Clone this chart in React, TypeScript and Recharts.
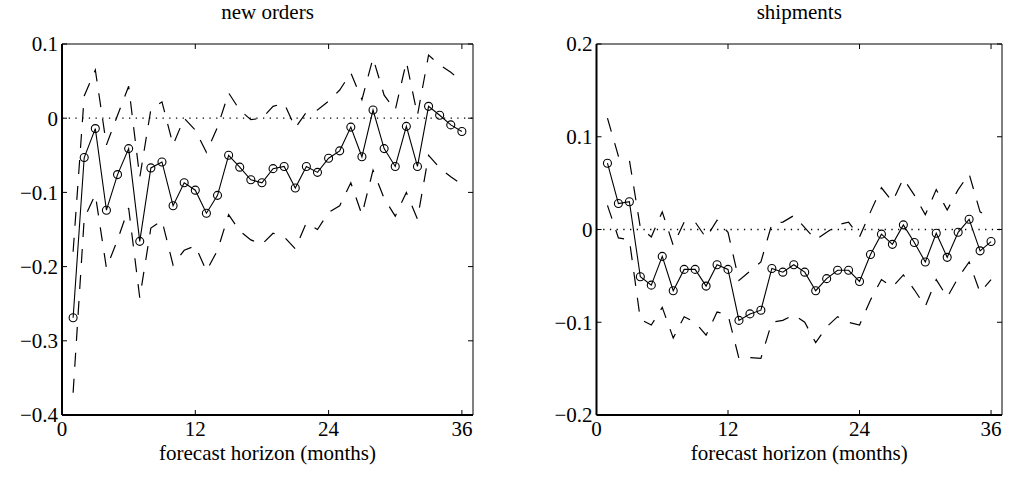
import { LineChart, Line, XAxis, YAxis, ReferenceLine } from "recharts";

// forecast horizon, months 1..36
const months = [
  1, 2, 3, 4, 5, 6, 7, 8, 9, 10, 11, 12, 13, 14, 15, 16, 17, 18,
  19, 20, 21, 22, 23, 24, 25, 26, 27, 28, 29, 30, 31, 32, 33, 34, 35, 36,
];

// new orders: point estimate and the two dashed bands
const newOrdersMean = [
  -0.269, -0.053, -0.014, -0.124, -0.076, -0.041, -0.166, -0.067, -0.059, -0.118, -0.087, -0.097,
  -0.128, -0.104, -0.05, -0.066, -0.083, -0.087, -0.068, -0.065, -0.094, -0.065, -0.073, -0.054,
  -0.044, -0.012, -0.052, 0.011, -0.041, -0.065, -0.011, -0.065, 0.016, 0.004, -0.009, -0.018,
];
const newOrdersUpper = [
  -0.18, 0.03, 0.065, -0.036, 0.004, 0.043, -0.08, 0.012, 0.022, -0.036, 0.0, -0.016,
  -0.046, -0.012, 0.034, 0.011, -0.002, 0.0, 0.016, 0.02, -0.013, 0.008, 0.011, 0.023,
  0.038, 0.061, 0.025, 0.081, 0.031, 0.011, 0.076, 0.004, 0.085, 0.072, 0.062, 0.049,
];
const newOrdersLower = [
  -0.37, -0.135, -0.103, -0.202, -0.164, -0.121, -0.242, -0.148, -0.138, -0.198, -0.178, -0.172,
  -0.206, -0.178, -0.13, -0.152, -0.164, -0.17, -0.155, -0.16, -0.176, -0.141, -0.15, -0.127,
  -0.118, -0.087, -0.13, -0.07, -0.108, -0.132, -0.1, -0.136, -0.05, -0.067, -0.079, -0.089,
];

// shipments
const shipmentsMean = [
  0.0715, 0.028, 0.03, -0.051, -0.06, -0.029, -0.066, -0.043, -0.043, -0.061, -0.038, -0.043,
  -0.098, -0.091, -0.087, -0.042, -0.046, -0.038, -0.046, -0.066, -0.053, -0.044, -0.044, -0.056,
  -0.027, -0.005, -0.016, 0.005, -0.014, -0.035, -0.004, -0.03, -0.003, 0.011, -0.023, -0.013,
];
const shipmentsUpper = [
  0.12, 0.079, 0.075, 0.002, -0.008, 0.019, -0.017, 0.008, 0.008, -0.009, 0.01, -0.003,
  -0.055, -0.045, -0.035, 0.006, 0.008, 0.015, 0.002, -0.011, -0.003, 0.005, 0.008, -0.008,
  0.019, 0.045, 0.03, 0.055, 0.037, 0.016, 0.043, 0.021, 0.043, 0.06, 0.019, 0.012,
];
const shipmentsLower = [
  0.026, -0.009, -0.011, -0.097, -0.103, -0.084, -0.117, -0.094, -0.1, -0.114, -0.089, -0.092,
  -0.139, -0.138, -0.139, -0.1, -0.098, -0.092, -0.1, -0.122, -0.105, -0.094, -0.1, -0.103,
  -0.076, -0.054, -0.062, -0.049, -0.065, -0.083, -0.054, -0.073, -0.052, -0.035, -0.068, -0.054,
];

const xTicks = [0, 12, 24, 36];
const newOrdersTicks = [-0.4, -0.3, -0.2, -0.1, 0, 0.1];
const shipmentsTicks = [-0.2, -0.1, 0, 0.1, 0.2];

const FONT = "'Liberation Serif', 'Times New Roman', serif";
const FONT_SIZE = 21;
const TICK_LEN = 5;
const X_MARGIN = 6;
const Y_MARGIN = 4;

function fmt(v: number): string {
  if (v === 0) return "0";
  const s = Math.abs(v).toFixed(1);
  return v < 0 ? "\u2212" + s : s;
}

function BottomTick(props: any) {
  const { x, y, payload } = props;
  const axisY = y - X_MARGIN;
  return (
    <g>
      <line x1={x} y1={axisY} x2={x} y2={axisY - TICK_LEN} stroke="#000" />
      <text x={x} y={y} dy="0.71em" textAnchor="middle" fontSize={FONT_SIZE} fontFamily={FONT} fill="#000">
        {payload.value}
      </text>
    </g>
  );
}

function TopTick(props: any) {
  const { x, y } = props;
  return <line x1={x} y1={y} x2={x} y2={y + TICK_LEN} stroke="#000" />;
}

function LeftTick(props: any) {
  const { x, y, payload } = props;
  const axisX = x + Y_MARGIN;
  return (
    <g>
      <line x1={axisX} y1={y} x2={axisX + TICK_LEN} y2={y} stroke="#000" />
      <text x={x} y={y} dy="0.35em" textAnchor="end" fontSize={FONT_SIZE} fontFamily={FONT} fill="#000">
        {fmt(payload.value)}
      </text>
    </g>
  );
}

function RightTick(props: any) {
  const { x, y } = props;
  return <line x1={x} y1={y} x2={x - TICK_LEN} y2={y} stroke="#000" />;
}

type Row = { month: number; mean: number; upper: number; lower: number };

function buildRows(mean: number[], upper: number[], lower: number[]): Row[] {
  return months.map((m, i) => ({ month: m, mean: mean[i], upper: upper[i], lower: lower[i] }));
}

type PanelProps = {
  title: string;
  rows: Row[];
  yDomain: [number, number];
  yTicks: number[];
  left: number;
  marginLeft: number;
  marginRight: number;
};

function Panel({ title, rows, yDomain, yTicks, left, marginLeft, marginRight }: PanelProps) {
  return (
    <div style={{ position: "absolute", left, top: 0 }}>
      <LineChart
        width={504}
        height={485}
        data={rows}
        margin={{ top: 24, right: marginRight, bottom: 40, left: marginLeft }}
      >
        <XAxis
          xAxisId="bottom"
          dataKey="month"
          type="number"
          domain={[0, 37]}
          ticks={xTicks}
          height={30}
          tickSize={0}
          tickMargin={X_MARGIN}
          tick={BottomTick}
          axisLine={{ stroke: "#000", strokeWidth: 2 }}
          tickLine={false}
          label={{
            value: "forecast horizon (months)",
            position: "bottom",
            offset: 0,
            fontSize: FONT_SIZE,
            fontFamily: FONT,
            fill: "#000",
          }}
        />
        <XAxis
          xAxisId="top"
          orientation="top"
          dataKey="month"
          type="number"
          domain={[0, 37]}
          ticks={xTicks}
          height={20}
          tickSize={0}
          tickMargin={0}
          tick={TopTick}
          axisLine={{ stroke: "#000", strokeWidth: 1 }}
          tickLine={false}
          label={{
            value: title,
            position: "top",
            offset: 5,
            fontSize: FONT_SIZE,
            fontFamily: FONT,
            fill: "#000",
          }}
        />
        <YAxis
          yAxisId="left"
          type="number"
          domain={yDomain}
          ticks={yTicks}
          width={50}
          tickSize={0}
          tickMargin={Y_MARGIN}
          tick={LeftTick}
          axisLine={{ stroke: "#000", strokeWidth: 2 }}
          tickLine={false}
          allowDataOverflow
        />
        <YAxis
          yAxisId="right"
          orientation="right"
          type="number"
          domain={yDomain}
          ticks={yTicks}
          width={5}
          tickSize={0}
          tickMargin={0}
          tick={RightTick}
          axisLine={{ stroke: "#000", strokeWidth: 1 }}
          tickLine={false}
          allowDataOverflow
        />
        <ReferenceLine
          xAxisId="bottom"
          yAxisId="left"
          y={0}
          stroke="#000"
          strokeWidth={1.3}
          strokeDasharray="1.3 5.4"
        />
        <Line
          xAxisId="bottom"
          yAxisId="left"
          dataKey="upper"
          type="linear"
          stroke="#000"
          strokeWidth={1.2}
          strokeDasharray="14 12"
          dot={false}
          isAnimationActive={false}
        />
        <Line
          xAxisId="bottom"
          yAxisId="left"
          dataKey="lower"
          type="linear"
          stroke="#000"
          strokeWidth={1.2}
          strokeDasharray="14 12"
          dot={false}
          isAnimationActive={false}
        />
        <Line
          xAxisId="bottom"
          yAxisId="left"
          dataKey="mean"
          type="linear"
          stroke="#000"
          strokeWidth={1.1}
          dot={{ r: 4, fill: "none", stroke: "#000", strokeWidth: 1.1 }}
          isAnimationActive={false}
        />
      </LineChart>
    </div>
  );
}

export default function App() {
  const newOrders = buildRows(newOrdersMean, newOrdersUpper, newOrdersLower);
  const shipments = buildRows(shipmentsMean, shipmentsUpper, shipmentsLower);
  return (
    <div style={{ position: "absolute", left: 0, top: 0, width: 1009, height: 485, background: "#fff" }}>
      <Panel
        title="new orders"
        rows={newOrders}
        yDomain={[-0.4, 0.1]}
        yTicks={newOrdersTicks}
        left={0}
        marginLeft={12}
        marginRight={26}
      />
      <Panel
        title="shipments"
        rows={shipments}
        yDomain={[-0.2, 0.2]}
        yTicks={shipmentsTicks}
        left={504}
        marginLeft={42.5}
        marginRight={1}
      />
    </div>
  );
}
